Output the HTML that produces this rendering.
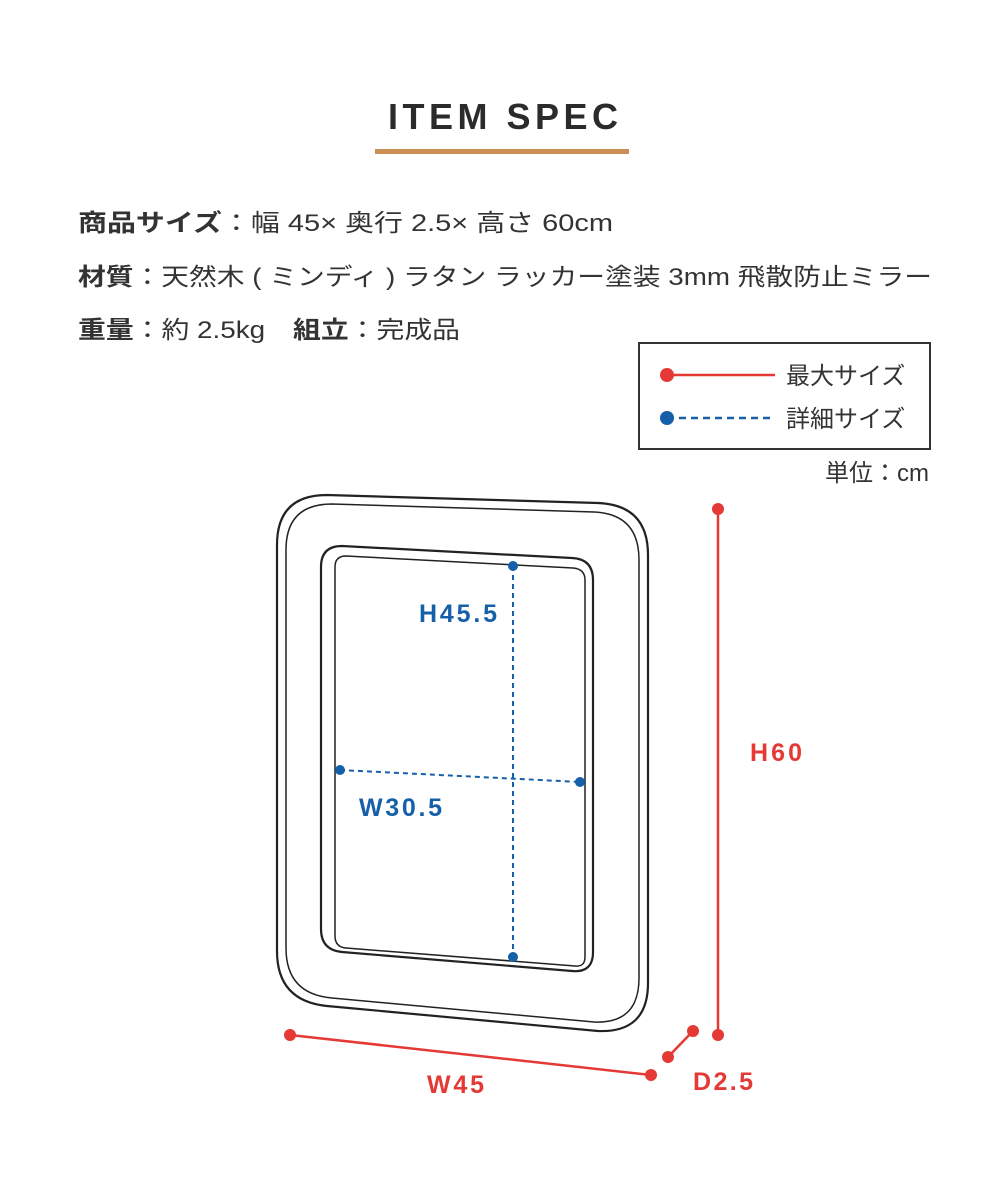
<!DOCTYPE html>
<html><head><meta charset="utf-8"><style>
html,body{margin:0;padding:0;background:#fff}
svg{display:block}
text{font-family:"Liberation Sans","Noto Sans CJK JP",sans-serif}
</style></head><body>
<svg width="1000" height="1193" viewBox="0 0 1000 1193" xmlns="http://www.w3.org/2000/svg">
<text x="388" y="129" textLength="230" lengthAdjust="spacing" font-size="36" font-weight="bold" fill="#2b2b2b">ITEM SPEC</text>
<rect x="375" y="149" width="254" height="5" fill="#c98f55"/>
<g font-size="24" fill="#333">
<text x="78" y="231" textLength="535" lengthAdjust="spacingAndGlyphs"><tspan font-weight="bold">商品サイズ</tspan>：幅 45× 奥行 2.5× 高さ 60cm</text>
<text x="78" y="285" textLength="854" lengthAdjust="spacingAndGlyphs"><tspan font-weight="bold">材質</tspan>：天然木 ( ミンディ ) ラタン ラッカー塗装 3mm 飛散防止ミラー</text>
<text x="78" y="338" textLength="382" lengthAdjust="spacingAndGlyphs"><tspan font-weight="bold">重量</tspan>：約 2.5kg　<tspan font-weight="bold">組立</tspan>：完成品</text>
</g>
<rect x="639" y="343" width="291" height="106" fill="#fff" stroke="#333" stroke-width="2"/>
<line x1="667" y1="375" x2="775" y2="375" stroke="#e53935" stroke-width="2.5"/>
<circle cx="667" cy="375" r="7" fill="#e53935"/>
<line x1="667" y1="418" x2="775" y2="418" stroke="#1560a8" stroke-width="2.5" stroke-dasharray="7,5"/>
<circle cx="667" cy="418" r="7" fill="#1560a8"/>
<g font-size="24" fill="#333">
<text x="786" y="384">最大サイズ</text>
<text x="786" y="427">詳細サイズ</text>
<text x="929" y="481" text-anchor="end">単位：cm</text>
</g>
<g fill="none" stroke="#222" stroke-width="2.2">
<path d="M277,545 Q277,495 327,495 L598,503 Q648,505 648,555 L648,983 Q648,1033 598,1031 L327,1006 Q277,1001 277,951 Z"/>
<path d="M286,550 Q286,504 332,504 L594,512 Q639,514 639,560 L639,978 Q639,1024 594,1022 L332,998 Q286,994 286,948 Z" stroke-width="1.5"/>
<path d="M321,567 Q321,546 342,546 L572,558 Q593,559 593,580 L593,952 Q593,973 572,971 L342,952 Q321,950 321,929 Z"/>
<path d="M335,567 Q335,556 346,556 L573,568 Q585,569 585,580 L585,957 Q585,967 575,966 L346,948 Q335,947 335,936 Z" stroke-width="1.5"/>
</g>
<line x1="513" y1="566" x2="513" y2="957" stroke="#1560a8" stroke-width="2" stroke-dasharray="5,4"/>
<line x1="340" y1="770" x2="580" y2="782" stroke="#1560a8" stroke-width="2" stroke-dasharray="5,4"/>
<g fill="#1560a8"><circle cx="513" cy="566" r="5"/><circle cx="513" cy="957" r="5"/><circle cx="340" cy="770" r="5"/><circle cx="580" cy="782" r="5"/></g>
<g font-size="25" font-weight="bold" fill="#1560a8">
<text x="419" y="622" textLength="78">H45.5</text>
<text x="359" y="816" textLength="83">W30.5</text>
</g>
<g stroke="#e53935" stroke-width="2.5">
<line x1="718" y1="509" x2="718" y2="1035"/>
<line x1="290" y1="1035" x2="651" y2="1075"/>
<line x1="668" y1="1057" x2="693" y2="1031"/>
</g>
<g fill="#e53935">
<circle cx="718" cy="509" r="6"/><circle cx="718" cy="1035" r="6"/>
<circle cx="290" cy="1035" r="6"/><circle cx="651" cy="1075" r="6"/>
<circle cx="668" cy="1057" r="6"/><circle cx="693" cy="1031" r="6"/>
</g>
<g font-size="25" font-weight="bold" fill="#e53935">
<text x="750" y="761" textLength="52">H60</text>
<text x="427" y="1093" textLength="57">W45</text>
<text x="693" y="1090" textLength="60">D2.5</text>
</g>
</svg>
</body></html>
